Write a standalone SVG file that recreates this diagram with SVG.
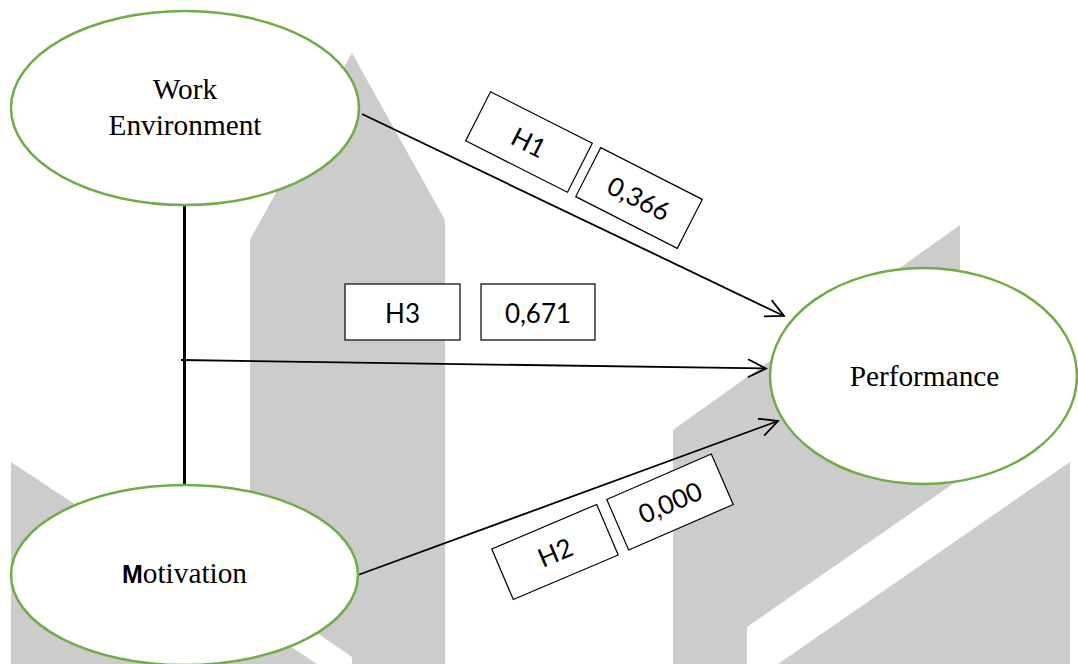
<svg xmlns="http://www.w3.org/2000/svg" width="1078" height="664" viewBox="0 0 1078 664">
  <defs>
    <style>
      .bg { fill: #cccccc; }
      .node ellipse { fill: #ffffff; stroke: #70ad47; stroke-width: 2.5; }
      .serif { font-family: "Liberation Serif", "Times New Roman", serif; font-size: 29.3px; fill: #000000; text-anchor: middle; }
      .lbl rect { fill: #ffffff; stroke: #000000; stroke-width: 1.2; }
      .lbl text { font-family: Lato, "Liberation Sans", Arial, sans-serif; font-size: 26px; fill: #000000; text-anchor: middle; }
      .conn { stroke: #000000; stroke-width: 1.8; fill: none; }
      .link { stroke: #000000; stroke-width: 3; fill: none; }
    </style>
    <marker id="arrow" markerUnits="userSpaceOnUse" markerWidth="24" markerHeight="24" viewBox="-22 -12 24 24" refX="0" refY="0" orient="auto">
      <path d="M-18,-9 L0,0 L-18,9" fill="none" stroke="#000000" stroke-width="1.8"/>
    </marker>
  </defs>

  <rect width="1078" height="664" fill="#ffffff"/>

  <!-- faint grey logo shapes behind the model -->
  <g id="watermark" class="bg">
    <polygon points="250,240 352,53 445,220 445,664 352,664 352,657 250,587"/>
    <polygon points="11,462 11,664 317,664"/>
    <polygon points="673,430 960,225 960,479 747,627 747,664 673,664"/>
    <polygon points="1070,462 1070,664 778,664"/>
  </g>

  <!-- paths between the constructs -->
  <g id="connectors">
    <line class="link" x1="184.5" y1="200" x2="184.5" y2="490"/>
    <line class="conn" x1="362" y1="114" x2="784" y2="316" marker-end="url(#arrow)"/>
    <line class="conn" x1="181" y1="360" x2="766" y2="368.5" marker-end="url(#arrow)"/>
    <line class="conn" x1="358" y1="575" x2="778" y2="421" marker-end="url(#arrow)"/>
  </g>

  <!-- hypothesis labels and coefficients -->
  <g id="labels" class="lbl">
    <g id="label-h1" transform="translate(529,142) rotate(26.8)">
      <rect x="-57" y="-27.5" width="114" height="55"/>
      <text x="0" y="10">H1</text>
    </g>
    <g id="label-h1-value" transform="translate(639,198) rotate(27)">
      <rect x="-57" y="-27.5" width="114" height="55"/>
      <text x="0" y="10">0,366</text>
    </g>
    <g id="label-h3">
      <rect x="345" y="284" width="115" height="56"/>
      <text x="402.5" y="322.5">H3</text>
    </g>
    <g id="label-h3-value">
      <rect x="481" y="284" width="114" height="56"/>
      <text x="538" y="322.5">0,671</text>
    </g>
    <g id="label-h2" transform="translate(555,552) rotate(-23)">
      <rect x="-57" y="-27.5" width="114" height="55"/>
      <text x="0" y="10">H2</text>
    </g>
    <g id="label-h2-value" transform="translate(670,502) rotate(-23.5)">
      <rect x="-57" y="-27.5" width="114" height="55"/>
      <text x="0" y="10">0,000</text>
    </g>
  </g>

  <!-- constructs -->
  <g id="work-environment" class="node">
    <ellipse cx="185" cy="108" rx="174" ry="97"/>
    <text class="serif" x="185" y="99">Work</text>
    <text class="serif" x="185" y="135">Environment</text>
  </g>

  <g id="motivation" class="node">
    <ellipse cx="184.5" cy="575" rx="173.5" ry="90"/>
    <text class="serif" x="184.5" y="583"><tspan font-family="'Liberation Sans', Arial, sans-serif" font-weight="bold" font-size="25px">M</tspan>otivation</text>
  </g>

  <g id="performance" class="node">
    <ellipse cx="923.5" cy="376" rx="153.5" ry="108"/>
    <text class="serif" x="924.5" y="386">Performance</text>
  </g>
</svg>
